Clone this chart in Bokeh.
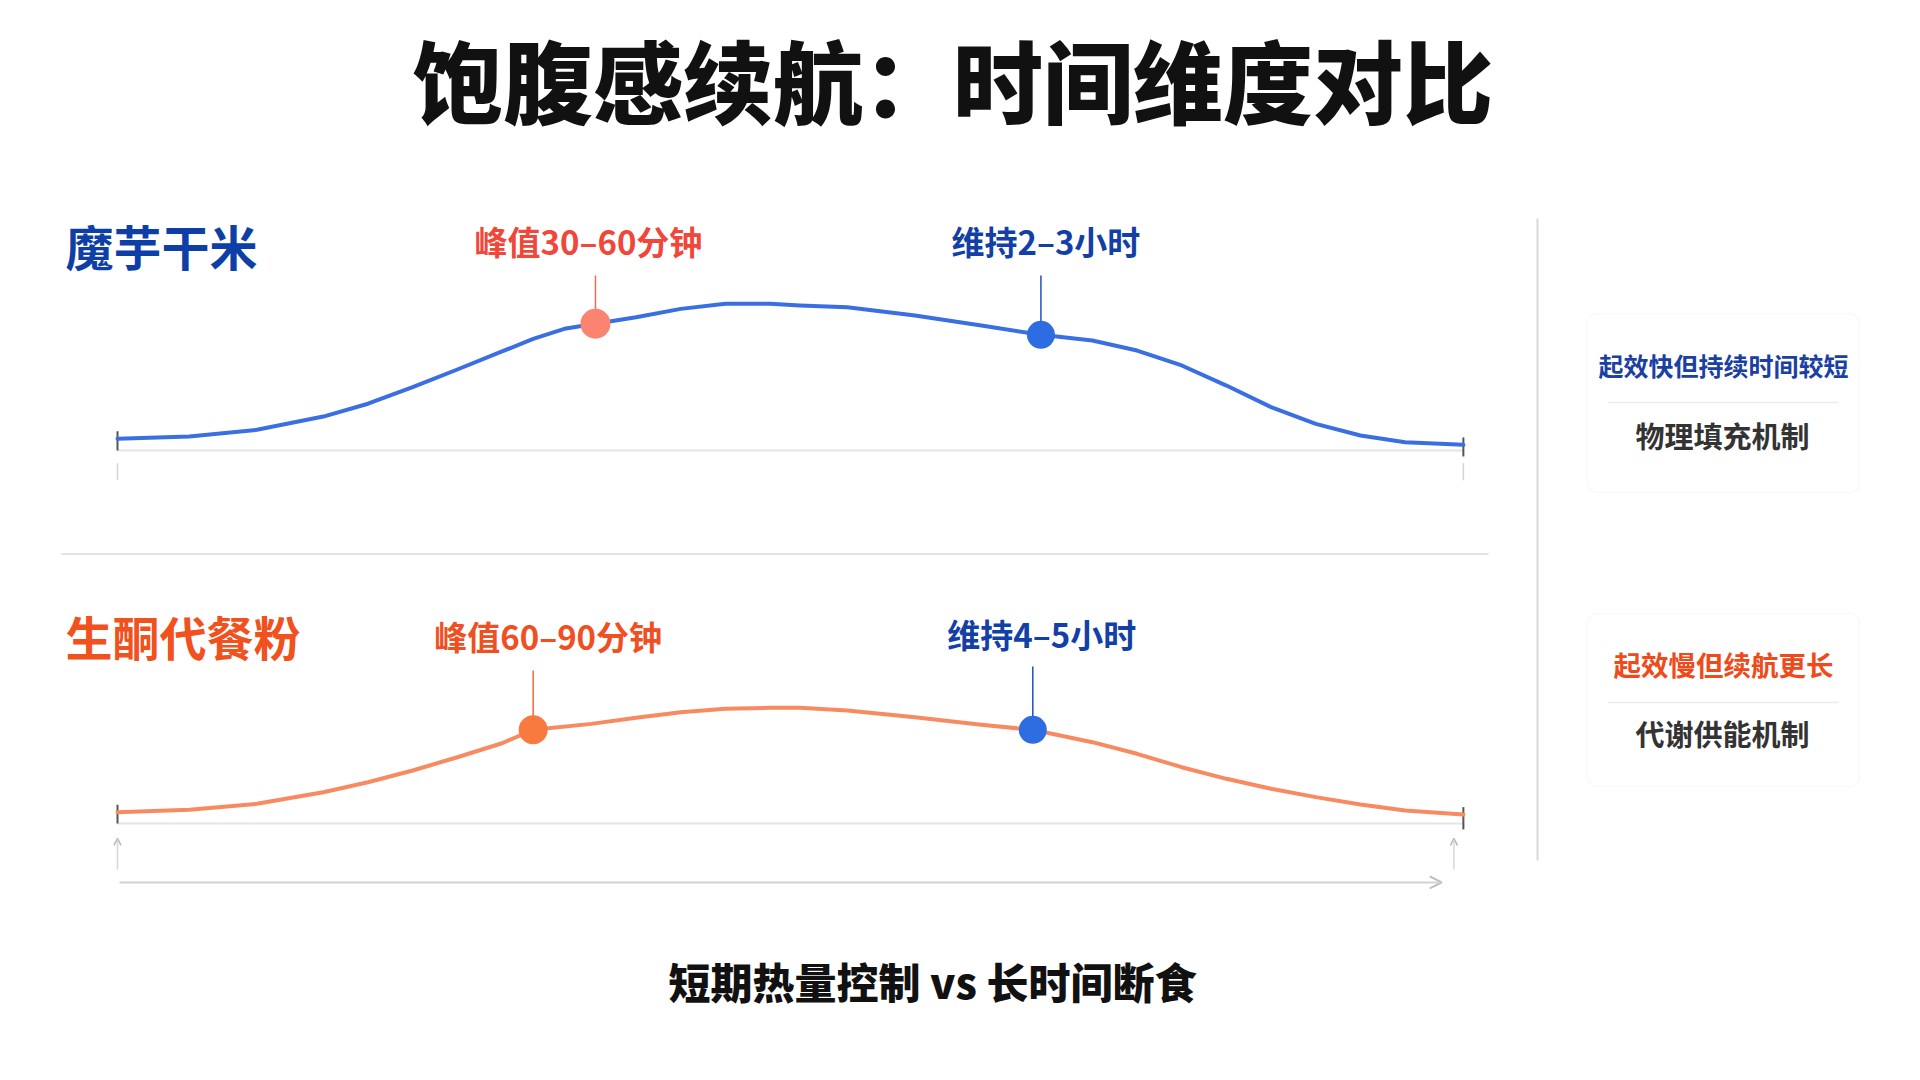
from bokeh.plotting import figure
from bokeh.models import Range1d, Arrow, OpenHead, BoxAnnotation
from bokeh.core.properties import value
from bokeh.embed import file_html
from bokeh.resources import INLINE

# ---------------- data ----------------
TITLE = "饱腹感续航：时间维度对比"
SUBTITLE = "短期热量控制 vs 长时间断食"
products = ["魔芋干米", "生酮代餐粉"]
peak_labels = ["峰值30–60分钟", "峰值60–90分钟"]
sustain_labels = ["维持2–3小时", "维持4–5小时"]
card_titles = ["起效快但持续时间较短", "起效慢但续航更长"]
card_mechanisms = ["物理填充机制", "代谢供能机制"]

# relative time (0-100) and relative satiety
konjac_t = [0, 5.3, 10.3, 15.2, 18.5, 21.8, 25.1, 28.4, 30.7, 33.0, 35.3, 38.3, 41.6, 44.9,
            48.2, 50.4, 53.9, 58.9, 63.8, 68.2, 72.0, 75.3, 78.6, 81.9, 85.2, 88.5, 91.8, 95.1, 99.4]
konjac_s = [7.9, 9.4, 13.9, 22.8, 31.4, 42.5, 54.4, 66.5, 75.0, 81.7, 85.1, 89.5, 95.1, 98.5,
            98.5, 97.4, 96.2, 90.6, 83.9, 77.7, 73.9, 67.1, 57.1, 43.6, 29.1, 17.9, 10.1, 5.6, 3.8]

keto_t = [0, 5.3, 10.3, 15.2, 18.5, 21.8, 25.1, 28.4, 30.7, 35.0, 38.3, 41.6, 44.9, 48.2,
          50.4, 53.9, 58.9, 63.8, 67.6, 72.0, 75.3, 78.6, 81.9, 85.2, 88.5, 91.8, 95.1, 99.4]
keto_s = [7.6, 9.2, 13.2, 21.0, 27.7, 35.6, 44.5, 53.9, 62.9, 66.9, 71.0, 74.7, 77.0, 77.7,
          77.7, 75.9, 71.4, 66.3, 62.9, 54.6, 46.8, 37.8, 30.0, 23.3, 17.7, 12.8, 8.7, 6.0]

konjac_marks_t = [35.3, 68.2]
konjac_marks_s = [85.1, 77.7]
keto_marks_t = [30.7, 67.6]
keto_marks_s = [62.9, 62.9]

# ---------------- styles ----------------
FONT = value("Noto Sans CJK SC")
HEAVY = value("Noto Sans CJK SC Black")
BLUE_LINE = "#3a6fe2"
ORANGE_LINE = "#f88a62"
DARK_BLUE = "#0e3fa6"
SUSTAIN_BLUE = "#2e6ce2"

W, H = 1904, 1064


def Y(px):  # pixel from top -> bottom-up canvas coordinate
    return H - px


p = figure(width=W, height=H, output_backend="svg", toolbar_location=None,
           x_range=Range1d(0, W), y_range=Range1d(0, H),
           x_axis_location=None, y_axis_location=None, min_border=0,
           outline_line_color=None, background_fill_color="white",
           border_fill_color="white")
p.grid.visible = False
p.extra_x_ranges = {"t": Range1d(-8.641, 131.98)}
p.extra_y_ranges = {"s1": Range1d(-412.27, 302.16), "s2": Range1d(-161.82, 552.61)}


def txt(x, y, s, size, color, align="center", style="bold", font=FONT, **kw):
    p.text(x=[x], y=[y], text=[s], text_font=font, text_font_size=size,
           text_font_style=style, text_color=color, text_align=align,
           text_baseline="middle", **kw)


# title & subtitle
txt(952.6, Y(77), TITLE, "90px", "#111111", font=HEAVY)
txt(932, Y(980), SUBTITLE, "42px", "#111111", font=HEAVY)

# dividers
p.segment(x0=[61], y0=[Y(553.5)], x1=[1488], y1=[Y(553.5)], line_color="#e4e4e4", line_width=2)
p.segment(x0=[1537], y0=[Y(218)], x1=[1537], y1=[Y(860)], line_color="#d9d9d9", line_width=2)

# product names
txt(65, Y(244), products[0], "48px", DARK_BLUE, align="left")
txt(65, Y(634.6), products[1], "47px", "#f0511d", align="left")

# ----- curves -----
series = [
    dict(t=konjac_t, s=konjac_s, mt=konjac_marks_t, ms=konjac_marks_s, rng="s1",
         line=BLUE_LINE, peak_fill="#fa8470", peak_stem="#f06a5a", peak_txt="#f0473a",
         stem_tops=(117.5, 117.5), label_s=(140.5, 140.5), peak_dx=-7, sus_dx=5,
         psize=30, bsize=28),
    dict(t=keto_t, s=keto_s, mt=keto_marks_t, ms=keto_marks_s, rng="s2",
         line=ORANGE_LINE, peak_fill="#f97a3e", peak_stem="#f06a3a", peak_txt="#ef4f22",
         stem_tops=(102.7, 105.4), label_s=(125.6, 127.1), peak_dx=15, sus_dx=9,
         psize=29, bsize=28),
]

for i, d in enumerate(series):
    r = dict(x_range_name="t", y_range_name=d["rng"])
    t_end = d["t"][-1]
    # baseline
    p.segment(x0=[0], y0=[0], x1=[t_end], y1=[0], line_color="#e4e4e4", line_width=2, **r)
    # dark end ticks
    p.segment(x0=[0, t_end], y0=[0, -4], x1=[0, t_end], y1=[d["s"][0] + 5, d["s"][-1] + 5],
              line_color="#555555", line_width=2, **r)
    # curve
    p.line(d["t"], d["s"], line_color=d["line"], line_width=4, line_cap="round",
           line_join="round", **r)
    # stems
    p.segment(x0=[d["mt"][0]], y0=[d["ms"][0]], x1=[d["mt"][0]], y1=[d["stem_tops"][0]],
              line_color=d["peak_stem"], line_width=1.5, **r)
    p.segment(x0=[d["mt"][1]], y0=[d["ms"][1]], x1=[d["mt"][1]], y1=[d["stem_tops"][1]],
              line_color="#1f4fc0", line_width=1.5, **r)
    # markers
    p.scatter([d["mt"][0]], [d["ms"][0]], size=d["psize"], fill_color=d["peak_fill"],
              line_color=None, **r)
    p.scatter([d["mt"][1]], [d["ms"][1]], size=d["bsize"], fill_color=SUSTAIN_BLUE,
              line_color=None, **r)
    # labels
    txt(d["mt"][0], d["label_s"][0], peak_labels[i], "33px", d["peak_txt"],
        x_offset=d["peak_dx"], **r)
    txt(d["mt"][1], d["label_s"][1], sustain_labels[i], "33px", "#1240a6",
        x_offset=d["sus_dx"], **r)

# light ticks under konjac baseline
p.segment(x0=[0, konjac_t[-1]], y0=[-8.5, -8.5], x1=[0, konjac_t[-1]], y1=[-20, -20],
          line_color="#d4d4d4", line_width=1.5, x_range_name="t", y_range_name="s1")

# small up arrows and long time arrow under keto curve
for tx in [0, 98.7]:
    p.add_layout(Arrow(x_start=tx, y_start=-31, x_end=tx, y_end=-10,
                       x_range_name="t", y_range_name="s2",
                       line_color="#d6d6d6", line_width=1.5,
                       end=OpenHead(size=7, line_color="#b8b8b8", line_width=1.5)))
p.add_layout(Arrow(x_start=0.15, y_start=-39.6, x_end=97.8, y_end=-39.6,
                   x_range_name="t", y_range_name="s2",
                   line_color="#d2d2d2", line_width=2,
                   end=OpenHead(size=12, line_color="#bdbdbd", line_width=2)))

# ----- cards -----
cards = [dict(top=313, bottom=492, title_y=364.5, sep_y=402, mech_y=434.5,
              color="#1a40a3", size="25px"),
         dict(top=613, bottom=786, title_y=663.5, sep_y=702, mech_y=732.5,
              color="#ee4a1a", size="27.5px")]
for i, c in enumerate(cards):
    p.add_layout(BoxAnnotation(left=1587, right=1859, top=Y(c["top"]), bottom=Y(c["bottom"]),
                               fill_color="white", fill_alpha=1, line_color="#ececec",
                               line_width=1.5, border_radius=10, level="underlay"))
    txt(1723, Y(c["title_y"]), card_titles[i], c["size"], c["color"])
    p.segment(x0=[1607], y0=[Y(c["sep_y"])], x1=[1838], y1=[Y(c["sep_y"])],
              line_color="#ebebeb", line_width=1.5)
    txt(1722, Y(c["mech_y"]), card_mechanisms[i], "29px", "#333333")

open("out.html", "w").write(file_html(p, INLINE))
